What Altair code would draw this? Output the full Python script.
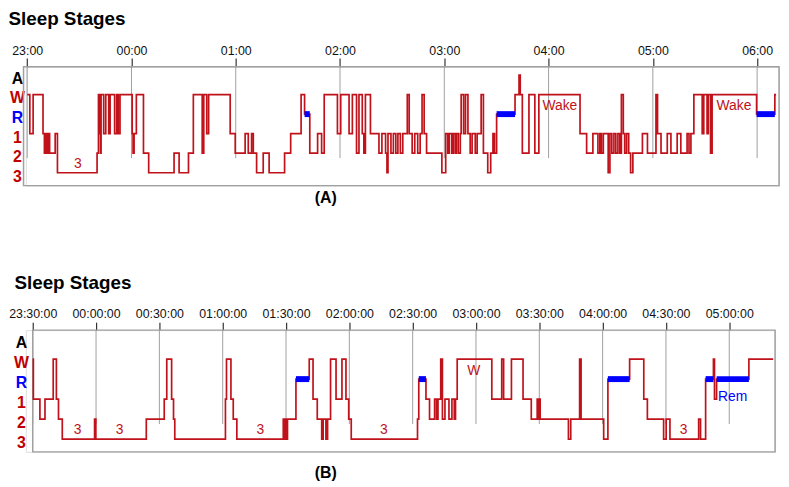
import altair as alt
import pandas as pd

# ---------------- data ----------------
stage_names = ["3", "2", "1", "R", "W", "A"]          # level 0..5
LEVEL = {s: i for i, s in enumerate(stage_names)}

# Panel A : minutes after 23:00
A_time = [0.0, 1.5, 3.4, 9.1, 9.9, 10.6, 11.4, 12.1, 12.9, 16.1, 17.4, 40.2, 41.0, 41.8, 42.2, 42.5,
          44.0, 45.2, 46.9, 47.7, 50.3, 51.5, 52.4, 53.4, 60.4, 60.9, 61.5, 62.8, 66.9, 69.9, 84.5,
          87.4, 92.8, 95.6, 100.7, 101.6, 103.3, 104.4, 116.8, 119.7, 125.4, 127.2, 129.1, 130.1,
          132.0, 135.8, 139.2, 148.1, 151.6, 157.6, 159.6, 162.6, 167.1, 169.4, 170.9, 178.5, 180.4,
          185.2, 187.1, 189.5, 190.9, 192.8, 193.7, 194.6, 197.5, 202.4, 204.1, 206.2, 207.0, 207.6,
          209.3, 210.7, 212.1, 213.3, 214.7, 216.1, 218.7, 219.8, 221.5, 223.0, 224.7, 226.1, 227.2,
          228.4, 229.8, 238.6, 240.8, 242.0, 242.9, 244.3, 245.2, 246.3, 246.9, 248.0, 249.2, 249.7,
          251.1, 252.2, 253.6, 254.9, 256.0, 257.8, 258.9, 261.2, 262.5, 265.0, 266.7, 268.0, 268.9,
          270.1, 280.7, 283.0, 283.7, 284.9, 288.7, 292.1, 294.4, 318.1, 321.9, 325.5, 328.4, 329.5,
          330.4, 331.5, 334.3, 335.3, 336.4, 337.6, 338.7, 339.9, 341.0, 341.9, 343.0, 343.8, 344.9,
          346.1, 347.2, 348.5, 354.0, 356.9, 361.8, 362.7, 364.7, 368.3, 370.4, 374.0, 376.1, 379.7,
          380.8, 381.9, 383.6, 388.4, 389.3, 391.2, 391.9, 393.2, 394.1, 419.7, 430.2]
A_stage = ["W", "1", "W", "1", "2", "1", "2", "1", "2", "1", "3", "2", "W", "1", "2", "W",
           "1", "W", "1", "W", "1", "W", "1", "W", "1", "2", "1", "W", "2", "3", "2",
           "3", "2", "W", "2", "W", "1", "W", "1", "2", "1", "2", "1", "2",
           "3", "2", "3", "2", "1", "W", "R", "2", "1", "2", "W", "1", "W",
           "1", "W", "2", "W", "1", "2", "W", "1", "2", "1", "2", "3", "1",
           "2", "1", "2", "1", "2", "1", "W", "1", "2", "1", "2", "1", "W",
           "1", "2", "3", "1", "2", "1", "2", "1", "2", "1", "2", "1", "W",
           "1", "W", "1", "2", "1", "2", "1", "W", "2", "3", "2", "1", "2",
           "R", "W", "A", "W", "2", "W", "2", "W", "1", "2", "1", "2", "1",
           "2", "1", "3", "1", "2", "1", "2", "1", "2", "W", "1", "2", "1",
           "2", "3", "2", "1", "2", "W", "1", "2", "1", "2", "1", "2", "1",
           "2", "1", "W", "1", "W", "1", "W", "2", "W", "R", "W"]
A_end = 430.9
A_ticks = [0, 60, 120, 180, 240, 300, 360, 420]
A_tick_labels = ["23:00", "00:00", "01:00", "02:00", "03:00", "04:00", "05:00", "06:00"]
A_note_text = ["3", "Wake", "Wake"]
A_note_time = [29.2, 306.5, 406.7]
A_note_level = [0.43, 3.41, 3.41]

# Panel B : minutes after 23:30
B_time = [0.0, 0.3, 3.4, 5.8, 9.7, 11.2, 12.2, 14.0, 29.3, 29.9, 53.8, 62.3, 63.5, 65.8, 66.7, 67.3,
          91.3, 91.8, 93.9, 95.0, 96.7, 118.7, 119.2, 119.6, 120.1, 120.7, 124.7, 131.0, 132.8,
          134.8, 136.9, 137.6, 138.9, 139.7, 141.1, 143.7, 146.5, 148.4, 149.7, 150.9, 182.3,
          182.9, 186.3, 188.0, 190.4, 191.3, 192.0, 193.3, 194.1, 195.3, 197.2, 198.6, 199.7,
          200.3, 201.1, 217.5, 222.2, 223.1, 226.8, 232.3, 236.2, 239.0, 239.5, 239.9, 240.4,
          253.8, 254.9, 259.1, 259.8, 270.5, 272.5, 282.8, 289.5, 291.2, 298.9, 300.1, 301.9,
          315.5, 316.4, 318.8, 322.5, 323.0, 324.0, 339.3]
B_stage = ["W", "1", "2", "1", "W", "1", "2", "3", "2", "3", "2", "1", "W", "1", "2", "3",
           "1", "W", "1", "2", "3", "2", "3", "2", "3", "2", "R", "W", "1",
           "2", "3", "2", "3", "2", "W", "1", "W", "1", "2", "3", "2",
           "R", "1", "2", "1", "2", "1", "W", "2", "1", "2", "1", "2",
           "1", "W", "1", "W", "1", "W", "1", "2", "1", "2", "1", "2",
           "3", "2", "W", "2", "3", "R", "W", "1", "2", "3", "2", "3",
           "2", "3", "R", "W", "1", "R", "W"]
B_end = 350.8
B_ticks = [0, 30, 60, 90, 120, 150, 180, 210, 240, 270, 300, 330]
B_tick_labels = ["23:30:00", "00:00:00", "00:30:00", "01:00:00", "01:30:00", "02:00:00",
                 "02:30:00", "03:00:00", "03:30:00", "04:00:00", "04:30:00", "05:00:00"]
B_note_text = ["3", "3", "3", "3", "W", "3", "Rem"]
B_note_time = [21.3, 41.2, 107.8, 166.3, 208.9, 308.4, 331.6]
B_note_level = [0.45, 0.45, 0.45, 0.45, 3.42, 0.45, 2.11]

# ---------------- style ----------------
RED = "#c0121a"
LBL_RED = "#c00000"
BLUE = "#0000ff"
GRID = "#a0a0a0"
SANS = "Liberation Sans, Arial, sans-serif"
GRID_BOTTOM = 0.75


def panel(times, stages, end, ticks, tick_labels, n_txt, n_t, n_l,
          xdom, ydom, frame_left, width, height, title_dx, title_offset,
          ylab_pad, tick_size, xlab_pad, caption, cap_x, cap_y):
    lvls = [LEVEL[s] for s in stages]
    line_df = pd.DataFrame({"t": times + [end], "lvl": lvls + [lvls[-1]]})
    nxt = times[1:] + [end]
    rem_df = pd.DataFrame({"t": [t for t, s in zip(times, stages) if s == "R"],
                           "t2": [n for n, s in zip(nxt, stages) if s == "R"],
                           "lvl": [LEVEL["R"]] * sum(s == "R" for s in stages)})
    tick_df = pd.DataFrame({"t": ticks, "lvl": [GRID_BOTTOM] * len(ticks)})
    note_df = pd.DataFrame({"t": n_t, "lvl": n_l, "txt": n_txt,
                            "col": [BLUE if s == "Rem" else RED for s in n_txt]})
    frame_df = pd.DataFrame({"t": [frame_left], "t2": [xdom[1]], "lvl": [ydom[0]], "lvl2": [ydom[1]]})

    xs = alt.Scale(domain=xdom, nice=False, zero=False)
    ys = alt.Scale(domain=ydom, nice=False, zero=False)
    lab_expr = "[" + ",".join("'%s'" % l for l in tick_labels) + "][indexof([" + \
        ",".join(str(t) for t in ticks) + "], datum.value)]"
    xaxis = alt.Axis(orient="top", values=ticks, labelExpr=lab_expr, grid=False, domain=False,
                     tickSize=tick_size, tickColor="#333333", tickWidth=1.2,
                     labelFont=SANS, labelFontSize=12.5, labelColor="#111111",
                     labelPadding=xlab_pad, title=None, labelFlush=False, labelOverlap=False)
    yaxis = alt.Axis(values=[0, 1, 2, 3, 4, 5],
                     labelExpr="['3','2','1','R','W','A'][datum.value]",
                     labelColor={"condition": [{"test": "datum.value == 5", "value": "#000000"},
                                               {"test": "datum.value == 3", "value": BLUE}],
                                 "value": LBL_RED},
                     ticks=False, tickSize=0, domain=False, grid=False, labelFont=SANS,
                     labelFontWeight="bold", labelFontSize=16, labelAlign="center",
                     labelBaseline="middle", labelOffset=3.5, labelPadding=ylab_pad, title=None)
    X = alt.X("t:Q", scale=xs, axis=xaxis)
    Y = alt.Y("lvl:Q", scale=ys, axis=yaxis)

    frame = alt.Chart(frame_df).mark_rect(fill=None, stroke=GRID, strokeWidth=1.5).encode(
        x=X, x2="t2:Q", y=Y, y2="lvl2:Q")
    grid = alt.Chart(tick_df).mark_rule(color=GRID, strokeWidth=1).encode(
        x=X, y=Y, y2=alt.value(0))
    line = alt.Chart(line_df).mark_line(interpolate="step-after", color=RED, strokeWidth=1.7).encode(
        x=X, y=Y)
    rem = alt.Chart(rem_df).mark_rule(color=BLUE, strokeWidth=6).encode(x=X, x2="t2:Q", y=Y)
    notes = alt.Chart(note_df).mark_text(font=SANS, fontSize=14, baseline="middle").encode(
        x=X, y=Y, text="txt:N", color=alt.Color("col:N", scale=None))
    cap = alt.Chart(pd.DataFrame({"c": [caption]})).mark_text(
        font=SANS, fontSize=16, fontWeight="bold", color="black", baseline="middle").encode(
        x=alt.value(cap_x), y=alt.value(cap_y), text="c:N")

    return alt.layer(frame, grid, line, rem, notes, cap).properties(
        width=width, height=height,
        title=alt.TitleParams("Sleep Stages", anchor="start", frame="group", dx=title_dx, font=SANS,
                              fontSize=19, fontWeight="bold", color="black", offset=title_offset))


chart_a = panel(A_time, A_stage, A_end, A_ticks, A_tick_labels, A_note_text, A_note_time, A_note_level,
                [-0.8, 432.6], [-0.658, 5.418], -2.11, 761, 120, -17.5, 16,
                9, 9, 0, "(A)", 303, 133)
chart_b = panel(B_time, B_stage, B_end, B_ticks, B_tick_labels, B_note_text, B_note_time, B_note_level,
                [-3.28, 351.7], [-0.64, 5.45], 0, 757, 123, -11.5, 15,
                5, 8, 2, "(B)", 303, 144)

chart = alt.vconcat(chart_a, chart_b, spacing=66).properties(
    padding={"left": 0, "top": -1, "right": 0, "bottom": 0}
).configure_view(stroke=None).configure(background="white")

chart.save("out.html", embed_options={"renderer": "svg", "actions": False})
